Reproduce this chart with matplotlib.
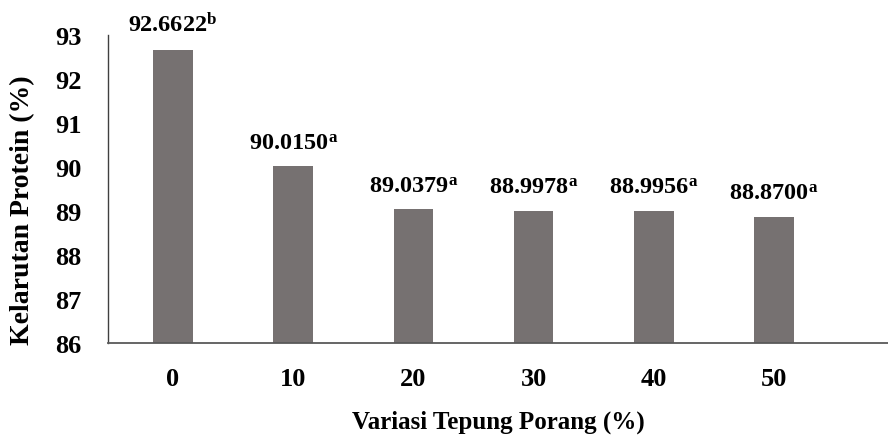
import matplotlib.pyplot as plt

# data
porang = ["0", "10", "20", "30", "40", "50"]
kelarutan = [92.6622, 90.0150, 89.0379, 88.9978, 88.9956, 88.8700]
notasi = ["b", "a", "a", "a", "a", "a"]
yticks = [86, 87, 88, 89, 90, 91, 92, 93]

plt.rcParams['font.family'] = ['Liberation Serif', 'DejaVu Serif']
plt.rcParams['font.weight'] = 'bold'
plt.rcParams['mathtext.fontset'] = 'custom'
plt.rcParams['mathtext.rm'] = 'Liberation Serif:bold'
plt.rcParams['mathtext.bf'] = 'Liberation Serif:bold'
plt.rcParams['mathtext.it'] = 'Liberation Serif:bold'

fig = plt.figure(figsize=(8.88, 4.39), dpi=100)
ax = fig.add_axes([0.1216, 0.216, 0.88, 0.702])

x = list(range(len(porang)))
ax.bar(x, kelarutan, width=0.33, color='#767171', bottom=0)

# value labels with significance letters
for xi, v, n in zip(x, kelarutan, notasi):
    ax.text(xi, v + 0.3, f"{v:.4f}$^{{\\mathbf{{{n}}}}}$", ha='center', va='bottom',
            fontsize=17.5, fontweight='bold')

ax.set_ylim(86, 93)
ax.set_xlim(-0.54, 5.96)
ax.set_yticks(yticks)
ax.set_xticks(x)
ax.set_xticklabels(porang)
ax.tick_params(axis='both', length=0, labelsize=19)
ax.tick_params(axis='y', pad=19)
ax.tick_params(axis='x', pad=17)
for lab in ax.get_xticklabels() + ax.get_yticklabels():
    lab.set_fontweight('bold')

ax.spines['top'].set_visible(False)
ax.spines['right'].set_visible(False)
ax.spines['left'].set_color('#404040')
ax.spines['bottom'].set_color('#595959')
ax.spines['left'].set_linewidth(1.0)
ax.spines['bottom'].set_linewidth(1.3)

ax.set_xlabel("Variasi Tepung Porang (%)", fontsize=18, fontweight='bold', labelpad=14)
ax.set_ylabel("Kelarutan Protein (%)", fontsize=20, fontweight='bold')
ax.yaxis.set_label_coords(-0.093, 0.435)

plt.savefig("out.png", dpi=100)
